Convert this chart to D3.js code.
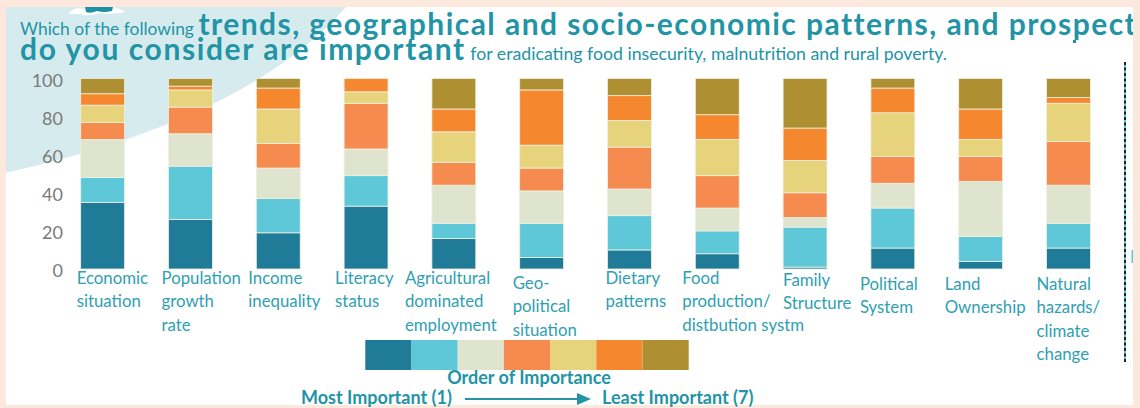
<!DOCTYPE html>
<html>
<head>
<meta charset="utf-8">
<script src="https://cdn.jsdelivr.net/npm/d3@7"></script>
<style>
  body { margin: 0; background: #fce8dc; }
  svg { display: block; font-family: Lato, "Open Sans", sans-serif; }
</style>
</head>
<body>
<script>
// categories shown under the bars (one entry per line of the label)
var categories = [
  ["Economic", "situation"],
  ["Population", "growth", "rate"],
  ["Income", "inequality"],
  ["Literacy", "status"],
  ["Agricultural", "dominated", "employment"],
  ["Geo-", "political", "situation"],
  ["Dietary", "patterns"],
  ["Food", "production/", "distbution systm"],
  ["Family", "Structure"],
  ["Political", "System"],
  ["Land", "Ownership"],
  ["Natural", "hazards/", "climate", "change"]
];

// share (%) of answers per rank of importance, 1 = most important
var rank1 = [35, 26, 19, 33, 16, 6, 10, 8, 1, 11, 4, 11];
var rank2 = [13, 28, 18, 16, 8, 18, 18, 12, 21, 21, 13, 13];
var rank3 = [20, 17, 16, 14, 20, 17, 14, 12, 5, 13, 29, 20];
var rank4 = [9, 14, 13, 24, 12, 12, 22, 17, 13, 14, 13, 23];
var rank5 = [9, 9, 18, 6, 16, 12, 14, 19, 17, 23, 9, 20];
var rank6 = [6, 2, 11, 7, 12, 29, 13, 13, 17, 13, 16, 3];
var rank7 = [8, 4, 5, 0, 16, 6, 9, 19, 26, 5, 16, 10];

var ranks = ["1", "2", "3", "4", "5", "6", "7"];
var yTicks = [0, 20, 40, 60, 80, 100];

// layout only: nudges of the hand placed category labels
var labelDx = [-4, -7, -8, -9, -27, -7, -2, -13, 0, -11, -14, -10];
var labelDy = [0, 0, 0, 0, 0, 5, 0, 0, 2, 6, 6, 6];

var colors = ["#1f7b98", "#5ec8d8", "#dfe4cf", "#f58b4e", "#e6d37b", "#f5882f", "#ae9032"];
var teal = "#2294a6";
var labelTeal = "#2fa0b2";

var width = 1140, height = 408;

var svg = d3.select("body").append("svg")
    .attr("width", width)
    .attr("height", height);

// white panel with the pale blue swoosh
var defs = svg.append("defs");
defs.append("clipPath").attr("id", "panel")
  .append("rect")
    .attr("x", 6).attr("y", 7)
    .attr("width", 1127).attr("height", 398);

svg.append("rect")
    .attr("x", 6).attr("y", 7)
    .attr("width", 1127).attr("height", 398)
    .attr("fill", "#ffffff");

var deco = svg.append("g").attr("clip-path", "url(#panel)");
deco.append("path")
    .attr("d", "M0,0 L352,0 Q255,118 0,174 Z")
    .attr("fill", "#d6ebee");
// bit of the cut off picture at the top
deco.append("path")
    .attr("d", "M68,14 Q75,6 84,9 L86,7 L114,7 Q120,9 126,12 Q110,15 100,13 Q90,17 80,14 Z")
    .attr("fill", "#ffffff");
deco.append("path")
    .attr("d", "M85,7 L113,7 L112,11 Q104,13 97,11 Q90,14 86,12 Z")
    .attr("fill", "#1f8fa3");

// title
var title = svg.append("g").attr("clip-path", "url(#panel)").attr("fill", teal);
var t1 = title.append("text").attr("x", 20).attr("y", 35);
t1.append("tspan").attr("font-size", 17.4).text("Which of the following ");
t1.append("tspan").attr("font-size", 30).attr("font-weight", 700)
    .attr("letter-spacing", 1.45)
    .text("trends, geographical and socio-economic patterns, and prospects");
var t2 = title.append("text").attr("x", 20).attr("y", 60);
t2.append("tspan").attr("font-size", 30).attr("font-weight", 700)
    .attr("letter-spacing", 1.6)
    .text("do you consider are important");
t2.append("tspan").attr("font-size", 17.7).attr("letter-spacing", 0)
    .text(" for eradicating food insecurity, malnutrition and rural poverty.");

// scales
var x = d3.scaleBand()
    .domain(d3.range(categories.length))
    .range([58.75, 1112.35])
    .paddingInner(0.5)
    .paddingOuter(0.25);

var y = d3.scaleLinear()
    .domain([0, 100])
    .range([269, 78.5]);

var color = d3.scaleOrdinal().domain(ranks).range(colors);

// rows for the stack
var series = [rank1, rank2, rank3, rank4, rank5, rank6, rank7];
var table = categories.map(function(c, i) {
  var row = {index: i};
  ranks.forEach(function(r, k) { row[r] = series[k][i]; });
  return row;
});

var stacked = d3.stack().keys(ranks)(table);

// y axis
var yAxis = svg.append("g")
    .attr("transform", "translate(63,0)")
    .call(d3.axisLeft(y).tickValues(yTicks).tickSize(0).tickPadding(0));
yAxis.select(".domain").remove();
yAxis.selectAll("text")
    .attr("font-family", "Lato, sans-serif")
    .attr("font-size", 18)
    .attr("fill", "#7a7a7a")
    .attr("dy", "0.42em");

// bars
svg.append("g").selectAll("g")
    .data(stacked)
    .join("g")
    .attr("fill", function(d) { return color(d.key); })
  .selectAll("rect")
    .data(function(d) { return d; })
    .join("rect")
    .attr("x", function(d) { return x(d.data.index); })
    .attr("y", function(d) { return y(d[1]); })
    .attr("width", x.bandwidth())
    .attr("height", function(d) { return y(d[0]) - y(d[1]); })
    .attr("stroke", "#eef0e2")
    .attr("stroke-width", 0.8);

// category labels
var labels = svg.append("g")
    .attr("fill", labelTeal)
    .attr("font-size", 16.8);

labels.selectAll("text")
    .data(categories)
    .join("text")
    .attr("x", function(d, i) { return x(i) + labelDx[i]; })
    .attr("y", function(d, i) { return 284 + labelDy[i]; })
    .each(function(d) {
      var txt = d3.select(this);
      var px = txt.attr("x");
      d.forEach(function(line, k) {
        txt.append("tspan")
            .attr("x", px)
            .attr("dy", k === 0 ? 0 : 23.3)
            .text(line);
      });
    });

// legend
var lx = d3.scaleBand().domain(ranks).range([365.3, 688.7]);
svg.append("g").selectAll("rect")
    .data(ranks)
    .join("rect")
    .attr("x", function(d) { return lx(d); })
    .attr("y", 340)
    .attr("width", lx.bandwidth())
    .attr("height", 30)
    .attr("fill", function(d) { return color(d); });

var legendText = svg.append("g")
    .attr("fill", teal)
    .attr("font-weight", 700)
    .attr("font-size", 18);

legendText.append("text")
    .attr("x", 529).attr("y", 384)
    .attr("text-anchor", "middle")
    .text("Order of Importance");
legendText.append("text")
    .attr("x", 301).attr("y", 404)
    .text("Most Important (1)");
legendText.append("text")
    .attr("x", 602).attr("y", 404)
    .text("Least Important (7)");

svg.append("line")
    .attr("x1", 465).attr("x2", 579)
    .attr("y1", 399).attr("y2", 399)
    .attr("stroke", teal)
    .attr("stroke-width", 2);
svg.append("path")
    .attr("d", "M577,393 L591,399 L577,405 Z")
    .attr("fill", teal);

// dashed rule at the right side
svg.append("line")
    .attr("x1", 1125).attr("x2", 1125)
    .attr("y1", 62).attr("y2", 362)
    .attr("stroke", "#5ec8d8")
    .attr("stroke-width", 2);
svg.append("line")
    .attr("x1", 1125).attr("x2", 1125)
    .attr("y1", 62).attr("y2", 362)
    .attr("stroke", "#222")
    .attr("stroke-width", 2)
    .attr("stroke-dasharray", "3,2.5");
svg.append("rect")
    .attr("x", 1131.5).attr("y", 250)
    .attr("width", 1.5).attr("height", 13)
    .attr("fill", "#5ec8d8");
svg.append("rect")
    .attr("x", 1073).attr("y", 40)
    .attr("width", 3).attr("height", 3)
    .attr("fill", "#1f8fa3");
</script>
</body>
</html>
